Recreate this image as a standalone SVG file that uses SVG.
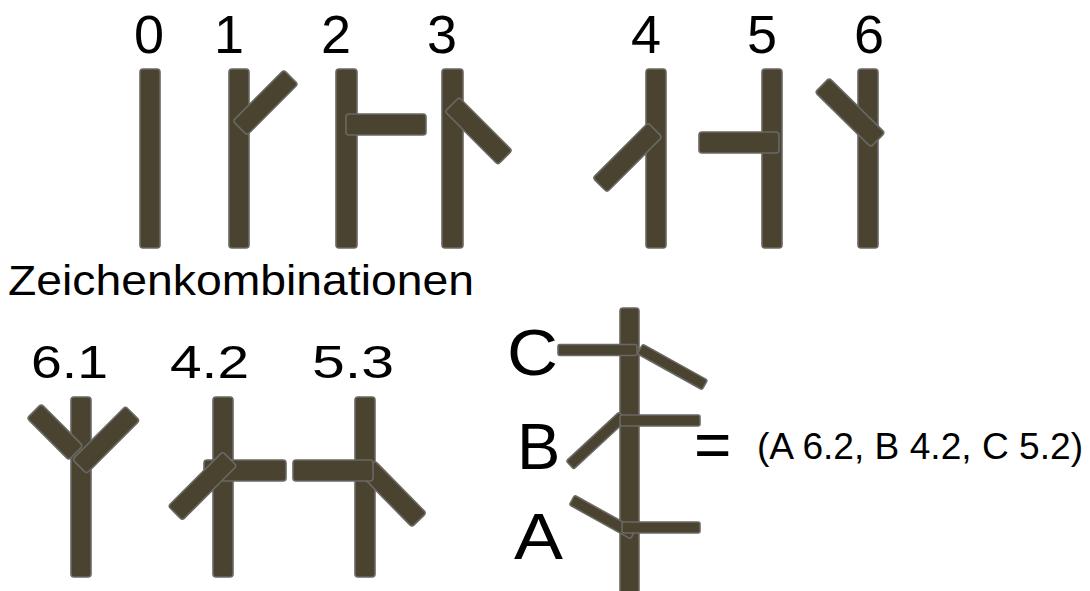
<svg xmlns="http://www.w3.org/2000/svg" width="1090" height="591" viewBox="0 0 1090 591">
<style>
.b{fill:#4a4330;stroke:#6a6864;stroke-width:1.6}
.t{font-family:"Liberation Sans",Arial,sans-serif;fill:#000}
</style>
<rect width="1090" height="591" fill="#fff"/>
<g id="labels-top" class="t" font-size="54" text-anchor="middle">
<text x="149" y="53">0</text>
<text x="229" y="53">1</text>
<text x="336" y="53">2</text>
<text x="442" y="53">3</text>
<text x="646" y="53">4</text>
<text x="762" y="53">5</text>
<text x="869" y="53">6</text>
</g>
<g id="sign0"><rect class="b" x="140" y="69" width="20" height="179" rx="3"/></g>
<g id="sign1"><rect class="b" x="229" y="69" width="20" height="179" rx="3"/>
<rect class="b" x="229.4" y="92.5" width="72" height="20" rx="3" transform="rotate(-45 265.5 102.5)"/></g>
<g id="sign2"><rect class="b" x="336" y="69" width="21" height="179" rx="3"/>
<rect class="b" x="346" y="114" width="80" height="21" rx="3"/></g>
<g id="sign3"><rect class="b" x="442" y="69" width="21" height="179" rx="3"/>
<rect class="b" x="441" y="121" width="75" height="20" rx="3" transform="rotate(45 478.5 131)"/></g>
<g id="sign4"><rect class="b" x="646" y="69" width="20" height="179" rx="3"/>
<rect class="b" x="588.5" y="147.5" width="78" height="20" rx="3" transform="rotate(-45 627.5 157.5)"/></g>
<g id="sign5"><rect class="b" x="762" y="69" width="20" height="179" rx="3"/>
<rect class="b" x="699" y="132" width="80" height="21" rx="3"/></g>
<g id="sign6"><rect class="b" x="858" y="69" width="20" height="179" rx="3"/>
<rect class="b" x="811" y="102.5" width="78" height="20" rx="3" transform="rotate(44.5 850 112.5)"/></g>
<text id="title" class="t" x="8" y="295" font-size="42" textLength="466" lengthAdjust="spacingAndGlyphs">Zeichenkombinationen</text>
<g id="labels-combo" class="t" font-size="46">
<text x="31" y="378" textLength="77" lengthAdjust="spacingAndGlyphs">6.1</text>
<text x="170" y="378" textLength="79" lengthAdjust="spacingAndGlyphs">4.2</text>
<text x="312" y="378" textLength="82" lengthAdjust="spacingAndGlyphs">5.3</text>
</g>
<g id="sign61"><rect class="b" x="71" y="397" width="20" height="180" rx="3"/>
<rect class="b" x="25.5" y="422" width="59" height="20" rx="3" transform="rotate(45 55 432)"/>
<rect class="b" x="68.5" y="430" width="75" height="20" rx="3" transform="rotate(-45 106 440)"/></g>
<g id="sign42"><rect class="b" x="213" y="397" width="20" height="180" rx="3"/>
<rect class="b" x="204" y="460" width="82" height="21" rx="3"/>
<rect class="b" x="164" y="476" width="77" height="20" rx="3" transform="rotate(-45 202.5 486)"/></g>
<g id="sign53"><rect class="b" x="355" y="397" width="20" height="180" rx="3"/>
<rect class="b" x="357" y="484" width="73" height="20" rx="3" transform="rotate(45.5 393.5 494)"/>
<rect class="b" x="293" y="460" width="80" height="21" rx="3"/></g>
<g id="word" class="t" font-size="65">
<text x="507" y="375" textLength="51" lengthAdjust="spacingAndGlyphs">C</text>
<text x="517" y="469">B</text>
<text x="514" y="559" textLength="49" lengthAdjust="spacingAndGlyphs">A</text>
</g>
<g id="tree"><rect class="b" x="620" y="308" width="19" height="292" rx="3"/>
<rect class="b" x="558" y="344.5" width="79" height="11" rx="2"/>
<rect class="b" x="635.4" y="361.5" width="74" height="11" rx="2" transform="rotate(29 672.5 367)"/>
<rect class="b" x="560.4" y="435" width="72" height="11" rx="2" transform="rotate(-42.8 596.5 440.5)"/>
<rect class="b" x="620" y="415" width="80" height="11" rx="2"/>
<rect class="b" x="567.6" y="511.5" width="70" height="11" rx="2" transform="rotate(29.1 602.5 517)"/>
<rect class="b" x="622" y="522" width="78" height="11" rx="2"/></g>
<text id="eq" class="t" x="694" y="467" font-size="64">=</text>
<text id="result" class="t" x="757" y="459" font-size="36" textLength="326" lengthAdjust="spacingAndGlyphs">(A 6.2, B 4.2, C 5.2)</text>
</svg>
